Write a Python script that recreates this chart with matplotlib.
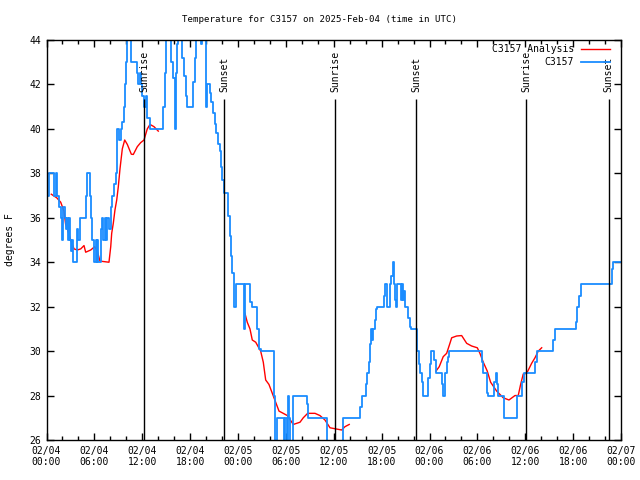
import matplotlib
matplotlib.use('Agg')
import numpy as np
import matplotlib.pyplot as plt
from matplotlib.ticker import MultipleLocator, FixedLocator

# ---------------- data (hours since 02/04 00:00 UTC) ----------------
obs_hours = [0.0, 0.28, 0.94, 1.15, 1.35, 1.57, 1.85, 1.98, 2.1, 2.28, 2.41, 2.53, 2.69, 2.82,
             2.94, 3.03, 3.23, 3.36, 3.86, 3.98, 4.2, 4.91, 5.04, 5.45, 5.61, 5.74, 5.95, 6.17,
             6.27, 6.37, 6.45, 6.87, 6.99, 7.12, 7.29, 7.42, 7.62, 7.83, 8.05, 8.25, 8.46, 8.67,
             8.8, 9.09, 9.3, 9.5, 9.71, 9.84, 9.92, 10.05, 10.63, 11.3, 11.5, 11.68, 11.8, 12.0,
             12.22, 12.43, 12.63, 12.97, 14.64, 14.81, 14.97, 15.64, 15.89, 16.07, 16.19, 16.32,
             16.48, 17.02, 17.23, 17.44, 17.64, 18.4, 18.57, 18.73, 19.32, 19.52, 19.95, 20.08,
             20.49, 20.58, 20.9, 21.08, 21.28, 21.49, 21.7, 21.83, 22.03, 22.24, 22.74, 22.96,
             23.16, 23.28, 23.5, 23.71, 24.75, 24.91, 25.46, 25.79, 26.42, 26.67, 26.92, 28.55,
             28.67, 28.92, 29.8, 29.92, 30.1, 30.23, 30.39, 30.51, 30.93, 32.68, 32.81, 35.11,
             37.19, 39.29, 39.5, 40.08, 40.2, 40.41, 40.54, 40.7, 40.83, 40.95, 41.13, 41.29,
             41.45, 42.29, 42.42, 42.71, 43.05, 43.21, 43.38, 43.55, 43.67, 43.8, 43.96, 44.39,
             44.51, 44.67, 44.8, 44.96, 45.3, 45.55, 45.68, 46.47, 46.68, 46.8, 47.09, 47.22,
             47.84, 48.06, 48.22, 48.56, 48.77, 49.6, 49.72, 49.94, 50.15, 50.35, 50.48, 54.61,
             54.74, 55.24, 55.36, 56.08, 56.29, 56.41, 56.62, 57.33, 58.92, 59.62, 59.84, 61.22,
             61.5, 63.47, 63.68, 66.31, 66.52, 66.73, 66.94, 67.02, 70.9, 71.03, 72.0]
obs_temp = [37.0, 38.0, 37.0, 38.0, 37.0, 36.5, 36.0, 35.0, 36.5, 36.0, 35.5, 36.0, 35.0, 36.0,
            35.0, 34.5, 35.0, 34.0, 35.5, 35.0, 36.0, 37.0, 38.0, 37.0, 36.0, 35.0, 34.0, 35.0,
            34.0, 35.0, 34.0, 35.5, 36.0, 35.0, 36.0, 35.0, 36.0, 35.5, 36.5, 37.0, 37.5, 38.0,
            40.0, 39.5, 40.0, 40.3, 41.0, 42.0, 43.0, 45.0, 43.0, 42.5, 42.0, 42.5, 42.0, 41.5,
            41.0, 41.5, 40.5, 40.0, 41.0, 42.5, 45.0, 43.0, 42.3, 40.0, 42.5, 43.8,
            45.0, 43.2, 42.4, 41.5, 41.0, 42.1, 43.2, 45.0, 43.8, 45.0, 41.0, 42.0,
            41.6, 41.2, 40.7, 40.2, 39.8, 39.3, 39.0, 38.3, 37.7, 37.1, 36.1, 35.2,
            34.3, 33.5, 32.0, 33.0, 31.0, 33.0, 32.2, 32.0, 31.0, 30.1, 30.0, 28.0,
            25.5, 27.0, 25.5, 27.0, 25.5, 28.0, 27.0, 25.5, 28.0, 27.6, 27.0, 25.5,
            27.0, 27.5, 28.0, 28.5, 29.0, 29.5, 30.3, 31.0, 30.5, 31.0, 31.4, 31.9,
            32.0, 32.5, 33.0, 32.0, 33.0, 33.4, 34.0, 33.0, 32.3, 32.0, 33.0, 32.3,
            33.0, 32.3, 32.7, 32.0, 31.5, 31.1, 31.0, 30.0, 29.4, 29.0, 28.6, 28.0,
            28.8, 29.4, 30.0, 29.6, 29.0, 28.5, 28.0, 29.0, 29.5, 29.75, 30.0, 29.5,
            29.0, 28.1, 28.0, 28.6, 29.0, 28.5, 28.0, 27.0, 28.0, 28.6, 29.0, 29.5,
            30.0, 30.5, 31.0, 31.3, 32.0, 32.5, 32.9, 33.0, 33.7, 34.0, 34.0]

ana1_hours = [0.6, 1.28, 1.78, 2.19, 2.4, 2.61, 3.03, 3.45, 3.86, 4.29, 4.7, 4.91, 5.54, 6.04,
              6.37, 6.7, 7.83, 8.05, 8.17, 8.37, 8.58, 8.8, 9.0, 9.21, 9.5, 9.8, 10.13, 10.63,
              10.88, 11.38, 11.8, 12.22, 12.63, 12.97, 13.47, 14.01]
ana1_temp = [37.06, 36.9, 36.7, 36.3, 35.7, 35.5, 35.0, 34.6, 34.55, 34.6, 34.75, 34.45, 34.55, 34.7,
             34.5, 34.05, 34.0, 34.7, 35.3, 35.75, 36.35, 36.8, 37.4, 38.2, 39.1, 39.5, 39.3, 38.86,
             38.85, 39.2, 39.38, 39.5, 40.0, 40.2, 40.1, 39.9]
ana2_hours = [24.87, 25.16, 25.5, 25.79, 26.22, 26.84, 27.17, 27.47, 27.88, 28.3, 28.72, 29.14,
              29.67, 30.18, 30.93, 31.77, 32.18, 32.73, 33.65, 34.27, 34.9, 35.53, 36.99, 37.41, 37.94]
ana2_temp = [31.7, 31.3, 31.0, 30.5, 30.4, 30.0, 29.5, 28.7, 28.5, 28.1, 27.7, 27.3,
             27.2, 27.1, 26.7, 26.8, 27.0, 27.2, 27.2, 27.1, 26.9, 26.55, 26.45, 26.6, 26.7]
ana3_hours = [48.81, 49.22, 49.72, 50.15, 50.56, 50.78, 51.4, 52.03, 52.66, 53.28, 53.99, 54.32,
              54.74, 55.24, 55.66, 56.42, 57.24, 57.96, 58.71, 59.12, 59.42, 59.75, 60.18, 60.8,
              61.22, 61.63, 62.06]
ana3_temp = [29.1, 29.3, 29.75, 29.9, 30.35, 30.6, 30.68, 30.7, 30.35, 30.23, 30.15, 29.9,
             29.5, 29.1, 28.6, 28.2, 27.9, 27.8, 28.0, 28.0, 28.5, 28.97, 29.0, 29.45,
             29.7, 30.0, 30.15]

sun_hours = [12.26, 22.28, 36.19, 46.34, 60.13, 70.45]
sun_names = ['Sunrise', 'Sunset', 'Sunrise', 'Sunset', 'Sunrise', 'Sunset']

xtick_hours = list(range(0, 73, 6))
xtick_labels = ['02/04\n00:00', '02/04\n06:00', '02/04\n12:00', '02/04\n18:00',
                '02/05\n00:00', '02/05\n06:00', '02/05\n12:00', '02/05\n18:00',
                '02/06\n00:00', '02/06\n06:00', '02/06\n12:00', '02/06\n18:00',
                '02/07\n00:00']
ytick_vals = list(range(26, 45, 2))

title = 'Temperature for C3157 on 2025-Feb-04 (time in UTC)'

# ---------------- plot ----------------
plt.rcParams['font.family'] = ['DejaVu Sans Mono']
fig = plt.figure(figsize=(6.4, 4.8), dpi=100)
ax = fig.add_axes([46.5 / 640, 40 / 480, (621 - 46.5) / 640, 400 / 480])

ana_h = ana1_hours + [np.nan] + ana2_hours + [np.nan] + ana3_hours
ana_t = ana1_temp + [np.nan] + ana2_temp + [np.nan] + ana3_temp
ax.plot(ana_h, ana_t, color='#ff0000', lw=1.0, label='C3157 Analysis')
ax.plot(obs_hours, obs_temp, drawstyle='steps-post', color='#1a8cff', lw=1.3, label='C3157')

ax.vlines(sun_hours, 26, 41.35, color='black', lw=1.0)
for h, name in zip(sun_hours, sun_names):
    ax.text(h, 41.68, name, rotation=90, ha='center', va='bottom', fontsize=7)

ax.set_xlim(0, 72)
ax.set_ylim(26, 44)
ax.xaxis.set_major_locator(FixedLocator(xtick_hours))
ax.set_xticklabels(xtick_labels)
ax.xaxis.set_minor_locator(MultipleLocator(2))
ax.set_yticks(ytick_vals)
ax.tick_params(which='both', direction='in', top=True, right=True, labelsize=7, width=1)
ax.tick_params(which='major', length=5, pad=4)
ax.tick_params(which='minor', length=3)
for s in ax.spines.values():
    s.set_linewidth(1)

ax.set_ylabel('degrees F', fontsize=7, labelpad=10)
fig.text(0.5, 1 - 20 / 480, title, ha='center', va='center', fontsize=6.6)

leg = ax.legend(loc='upper right', frameon=False, markerfirst=False, fontsize=7,
                handlelength=3.0, handletextpad=0.7, borderpad=0, borderaxespad=0,
                labelspacing=0.25,
                bbox_to_anchor=((610 - 46.5) / 574.5, (440 - 44.5) / 400))

fig.savefig('out.png', dpi=100)
